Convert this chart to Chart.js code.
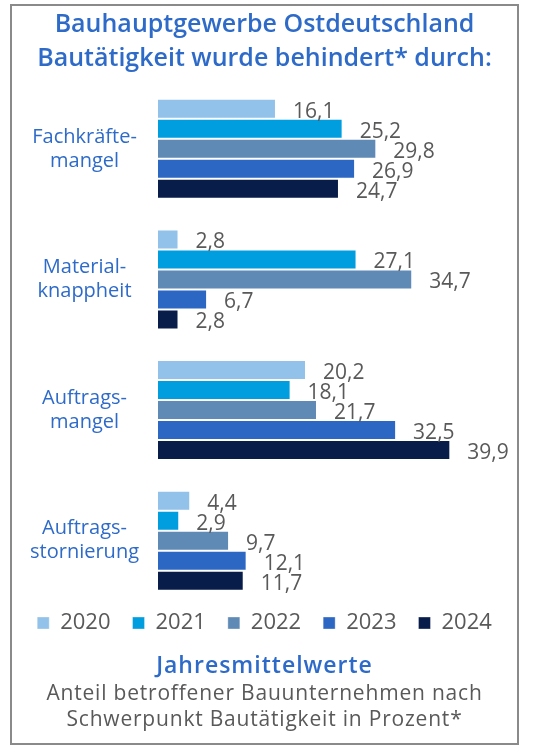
<!DOCTYPE html>
<html>
<head>
<meta charset="utf-8">
<script src="https://cdn.jsdelivr.net/npm/chart.js@4"></script>
<style>
  body { margin: 0; background: #fff; }
  #rahmen {
    position: absolute; left: 10px; top: 4px;
    width: 505px; height: 737px;
    border: 2px solid #8a8a8a; background: #fff;
  }
  #cont { position: absolute; left: 0; top: 0; width: 505px; height: 654px; }
  #fuss {
    position: absolute; left: 0; top: 643px; width: 505px;
    text-align: center; font-family: "Open Sans", sans-serif; color: #595959;
  }
  #fuss .t1 { color: #2e6bc9; font-weight: 600; font-size: 23px; line-height: 30px; letter-spacing: 1px; }
  #fuss .t2 { font-size: 21px; line-height: 26px; letter-spacing: 0.8px; }
</style>
</head>
<body>
<div id="rahmen">
  <div id="cont"><canvas id="grafico"></canvas></div>
  <div id="fuss">
    <div class="t1">Jahresmittelwerte</div>
    <div class="t2">Anteil betroffener Bauunternehmen nach<br>Schwerpunkt Bautätigkeit in Prozent*</div>
  </div>
</div>
<script>
// datos
var categorias = [["Fachkräfte-", "mangel"], ["Material-", "knappheit"], ["Auftrags-", "mangel"], ["Auftrags-", "stornierung"]];
var anios = ["2020", "2021", "2022", "2023", "2024"];
var v2020 = [16.1, 2.8, 20.2, 4.4];
var v2021 = [25.2, 27.1, 18.1, 2.9];
var v2022 = [29.8, 34.7, 21.7, 9.7];
var v2023 = [26.9, 6.7, 32.5, 12.1];
var v2024 = [24.7, 2.8, 39.9, 11.7];
var colores = ["#92c1e9", "#009ddf", "#5f8ab5", "#2d67c4", "#081d4a"];

var valores = [v2020, v2021, v2022, v2023, v2024];
var fuente = "Open Sans";

var datasets = [];
for (var i = 0; i < anios.length; i++) {
  datasets.push({
    label: anios[i],
    data: valores[i],
    backgroundColor: colores[i],
    borderColor: "rgba(255,255,255,0.35)",
    borderWidth: 1,
    categoryPercentage: 0.766,
    barPercentage: 1
  });
}

// etiquetas de valor a la derecha de cada barra
var etiquetasValor = {
  id: "etiquetasValor",
  afterDatasetsDraw: function (chart) {
    var ctx = chart.ctx;
    ctx.save();
    ctx.font = "21px " + fuente;
    ctx.fillStyle = "#595959";
    ctx.textAlign = "left";
    ctx.textBaseline = "middle";
    chart.data.datasets.forEach(function (ds, d) {
      var meta = chart.getDatasetMeta(d);
      meta.data.forEach(function (el, j) {
        var txt = ds.data[j].toFixed(1).replace(".", ",");
        ctx.fillText(txt, el.x + 17, el.y + 3);
      });
    });
    ctx.restore();
  }
};

// la leyenda queda pegada debajo de las barras
var subirLeyenda = {
  id: "subirLeyenda",
  afterLayout: function (chart) {
    var lg = chart.legend;
    var h = lg.bottom - lg.top;
    var pad = lg.options.labels.padding;
    lg.top = chart.chartArea.bottom + 17 - pad - 11;
    lg.bottom = lg.top + h;
  }
};

var myChart = new Chart(document.getElementById("grafico"), {
  type: "bar",
  data: { labels: categorias, datasets: datasets },
  plugins: [etiquetasValor, subirLeyenda],
  options: {
    indexAxis: "y",
    responsive: true,
    maintainAspectRatio: false,
    animation: false,
    layout: { padding: 0 },
    scales: {
      x: { display: false, min: 0, max: 49 },
      y: {
        grid: { display: false },
        border: { display: false },
        ticks: {
          crossAlign: "center",
          color: "#2e6bc9",
          font: { family: fuente, size: 20 },
          padding: 11
        },
        afterFit: function (scale) { scale.width = 146; }
      }
    },
    plugins: {
      title: {
        display: true,
        text: ["Bauhauptgewerbe Ostdeutschland", "Bautätigkeit wurde behindert* durch:"],
        color: "#2e6bc9",
        font: { family: fuente, size: 25, weight: "600", lineHeight: 1.37 },
        padding: { top: 1.5, bottom: 7.5 }
      },
      legend: {
        position: "bottom",
        labels: {
          boxWidth: 12, boxHeight: 12,
          color: "#595959",
          font: { family: fuente, size: 22, lineHeight: 1 },
          padding: 22
        }
      },
      tooltip: { enabled: false }
    }
  }
});
</script>
</body>
</html>
